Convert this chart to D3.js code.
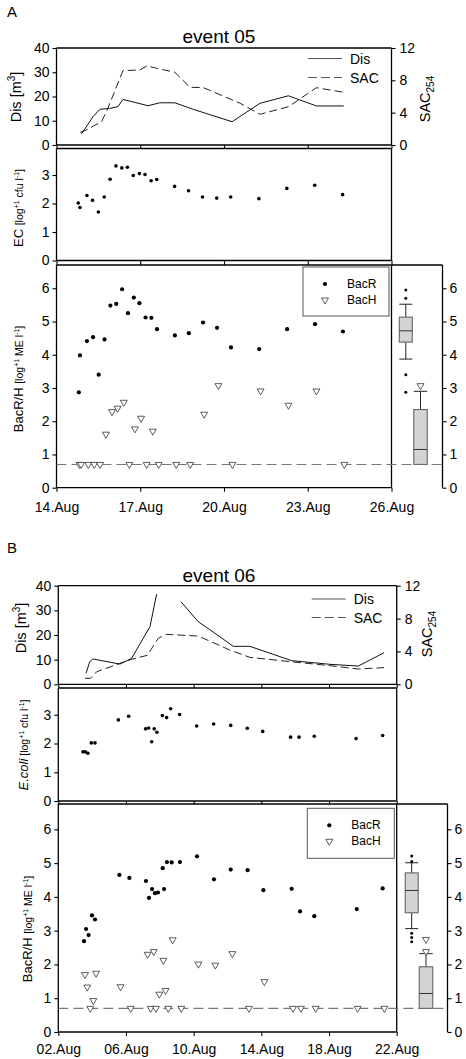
<!DOCTYPE html>
<html><head><meta charset="utf-8">
<script src="https://cdn.jsdelivr.net/npm/d3@7"></script>
<style>body{margin:0;background:#fff} svg{font-family:"Liberation Sans",Arial,Helvetica,sans-serif}</style>
</head><body><svg id="c" width="466" height="1059"></svg>
<script>
// ---------------- DATA : event 05 (panel A) ----------------
const aTickDays = [0, 3, 6, 9, 12];
const aTickLabels = ["14.Aug", "17.Aug", "20.Aug", "23.Aug", "26.Aug"];
const aDisDay = [0.89,1.31,1.55,1.90,2.20,2.38,3.28,3.70,4.24,4.90,6.29,7.29,8.31,9.31,10.29];
const aDisVal = [4.5,11.7,14.7,15.1,15.8,18.8,16.2,17.4,17.4,14.7,9.6,17.2,20.3,16.1,16.1];
const aSacDay = [0.85,1.07,1.61,1.79,2.08,2.38,2.98,3.25,3.58,4.24,4.78,5.26,6.58,7.29,8.31,9.31,10.29];
const aSacVal = [1.57,1.86,2.89,4.12,6.6,9.2,9.28,9.8,9.49,9.0,7.14,7.1,5.16,3.80,4.74,7.09,6.52];
const aEcDay = [0.78,0.84,1.09,1.29,1.50,1.71,1.92,2.13,2.34,2.54,2.75,2.97,3.17,3.39,3.59,4.23,4.73,5.23,5.74,6.24,7.25,8.25,9.25,10.25];
const aEcVal = [2.02,1.86,2.28,2.11,1.70,2.23,2.85,3.32,3.25,3.27,2.98,3.05,3.02,2.80,2.84,2.60,2.45,2.23,2.19,2.23,2.17,2.53,2.64,2.31];
const aBacRDay = [0.80,0.84,1.09,1.31,1.51,1.72,1.93,2.14,2.35,2.56,2.77,2.97,3.19,3.40,3.60,4.24,4.74,5.25,5.75,6.25,7.26,8.26,9.26,10.26];
const aBacRVal = [2.87,3.98,4.41,4.53,3.40,4.46,5.48,5.53,5.97,5.25,5.72,5.55,5.12,5.11,4.77,4.58,4.65,4.97,4.81,4.22,4.17,4.77,4.92,4.70];
const aBacHDay = [0.82,0.88,1.14,1.35,1.56,1.77,1.99,2.19,2.41,2.61,2.81,3.03,3.23,3.45,3.66,4.29,4.79,5.29,5.80,6.30,7.31,8.31,9.31,10.31];
const aBacHVal = [0.7,0.7,0.7,0.7,0.7,1.61,2.29,2.39,2.57,0.7,1.77,2.09,0.7,1.70,0.7,0.7,0.7,2.21,3.07,0.7,2.91,2.48,2.91,0.7];
// box stats: [lower whisker, Q1, median, Q3, upper whisker]
const aBoxR = [3.87, 4.38, 4.72, 5.13, 5.52];
const aBoxROut = [5.95, 5.70, 3.40, 2.87];
const aBoxH = [0.7, 0.7, 1.15, 2.35, 2.90];
const aBoxHOut = [3.07];

// ---------------- DATA : event 06 (panel B) ----------------
const bTickDays = [0, 4, 8, 12, 16, 20];
const bTickLabels = ["02.Aug", "06.Aug", "10.Aug", "14.Aug", "18.Aug", "22.Aug"];
const bDisDay = [1.64,1.85,2.03,3.64,4.33,5.42,5.81,6.5,7.25,8.27,9.26,10.34,11.32,13.79,16.06,17.73,19.25];
const bDisVal = [4.5,9.0,10.3,8.2,10.5,23.4,36.6,null,33.5,25.4,20.7,15.4,15.4,9.6,8.1,7.4,12.8];
const bSacDay = [1.58,1.91,2.27,3.64,4.33,5.26,5.91,6.40,8.17,8.57,10.14,11.32,13.69,16.06,17.73,19.25];
const bSacVal = [0.73,0.73,1.53,2.55,3.04,3.53,5.6,6.08,5.88,5.6,4.17,3.28,2.76,2.27,1.86,2.03];
const bEcDay = [1.46,1.60,1.75,1.95,2.17,3.55,4.16,5.16,5.34,5.52,5.67,5.83,6.15,6.40,6.64,7.17,8.18,9.18,10.19,11.17,12.08,13.73,14.23,15.13,17.60,19.17];
const bEcVal = [1.71,1.71,1.66,2.02,2.02,2.82,2.95,2.51,2.54,2.06,2.51,2.39,2.97,2.90,3.21,3.01,2.61,2.68,2.63,2.53,2.42,2.22,2.22,2.25,2.17,2.28];
const bBacRDay = [1.52,1.64,1.79,1.99,2.17,3.61,4.20,5.18,5.36,5.54,5.71,5.89,6.17,6.25,6.42,6.70,7.19,8.20,9.20,10.19,11.19,12.12,13.79,14.29,15.13,17.64,19.17];
const bBacRVal = [2.69,3.05,2.87,3.45,3.33,4.65,4.56,4.47,3.97,4.23,4.11,4.13,4.85,4.23,5.03,5.02,5.03,5.20,4.52,4.81,4.79,4.20,4.24,3.57,3.43,3.64,4.25];
const bBacHDay = [1.58,1.71,1.89,2.07,2.23,3.68,4.28,5.28,5.46,5.64,5.77,5.97,6.21,6.34,6.50,6.76,7.27,8.28,9.28,10.29,11.27,12.18,13.87,14.34,15.21,17.69,19.27];
const bBacHVal = [1.70,1.33,0.7,0.93,1.74,1.34,0.7,2.30,0.7,2.38,0.7,1.12,2.12,1.23,0.7,2.73,0.7,2.01,1.98,2.32,0.7,1.49,0.7,0.7,0.7,0.7,0.7];
const bBoxR = [3.06, 3.53, 4.19, 4.71, 5.01];
const bBoxROut = [5.21, 5.05, 2.92, 2.80, 2.67];
const bBoxH = [0.7, 0.7, 1.14, 1.93, 2.32];
const bBoxHOut = [2.74, 2.38];

const disTicks = [0, 10, 20, 30, 40];
const sacTicks = [0, 4, 8, 12];
const ecTicks = [0, 1, 2, 3];
const bacTicks = [0, 1, 2, 3, 4, 5, 6];
const LOD = 0.7;

// ---------------- DRAWING ----------------
const svg = d3.select("#c");
const zip = (a, b) => a.map((v, i) => [v, b[i]]);
const AX = 1.3;
const fmt = d3.format("d");

function styleAxis(g, fs) {
  g.selectAll("path.domain").remove();
  g.selectAll(".tick line").attr("stroke", "#000").attr("stroke-width", 1.1);
  g.selectAll(".tick text").attr("fill", "#000").style("font-size", fs + "px")
    .style("font-family", '"Liberation Sans", Arial, sans-serif');
}
function hline(x0, x1, y) {
  svg.append("line").attr("x1", x0).attr("x2", x1).attr("y1", y).attr("y2", y)
    .attr("stroke", "#000").attr("stroke-width", AX);
}
function vline(x, y0, y1) {
  svg.append("line").attr("x1", x).attr("x2", x).attr("y1", y0).attr("y2", y1)
    .attr("stroke", "#000").attr("stroke-width", AX);
}
function ylabel(x, y, parts) {
  const t = svg.append("text").attr("transform", `translate(${x},${y}) rotate(-90)`)
    .attr("text-anchor", "middle").attr("fill", "#000");
  parts.forEach(p => {
    const ts = t.append("tspan").text(p.t).style("font-size", p.fs + "px");
    if (p.dy) ts.attr("dy", p.dy);
    if (p.it) ts.style("font-style", "italic");
  });
}
const triDown = d3.symbol().type(d3.symbolTriangle).size(21);

function drawEvent(c) {
  const x = d3.scaleLinear().domain(c.xDom).range([c.xl, c.xr]);
  // ---- top panel: Dis + SAC
  const yDis = d3.scaleLinear().domain([0, 40]).range([c.t0, c.t1]);
  const ySac = d3.scaleLinear().domain([0, 12]).range([c.t0, c.t1]);
  vline(c.xl, c.t1, c.t0); vline(c.xr, c.t1, c.t0); hline(c.xl, c.xr, c.t1); hline(c.xl, c.xr, c.t0);
  styleAxis(svg.append("g").attr("transform", `translate(${c.xl},0)`)
    .call(d3.axisLeft(yDis).tickValues(disTicks).tickFormat(fmt).tickSize(4).tickPadding(3)), 14);
  styleAxis(svg.append("g").attr("transform", `translate(${c.xr},0)`)
    .call(d3.axisRight(ySac).tickValues(sacTicks).tickFormat(fmt).tickSize(4).tickPadding(4)), 14);
  styleAxis(svg.append("g").attr("transform", `translate(0,${c.t0})`)
    .call(d3.axisBottom(x).tickValues(c.ticks).tickFormat("").tickSize(c.m1 - c.t0)), 14);
  svg.append("path").datum(zip(c.sacDay, c.sacVal)).attr("fill", "none")
    .attr("stroke", "#222").attr("stroke-width", 1).attr("stroke-dasharray", "8,4")
    .attr("d", d3.line().defined(d => d[1] != null).x(d => x(d[0])).y(d => ySac(d[1])));
  svg.append("path").datum(zip(c.disDay, c.disVal)).attr("fill", "none")
    .attr("stroke", "#111").attr("stroke-width", 1)
    .attr("d", d3.line().defined(d => d[1] != null).x(d => x(d[0])).y(d => yDis(d[1])));
  // legend
  const lg = c.leg1;
  svg.append("line").attr("x1", lg.x).attr("x2", lg.x + 34).attr("y1", lg.y).attr("y2", lg.y)
    .attr("stroke", "#555").attr("stroke-width", 1.2);
  svg.append("line").attr("x1", lg.x).attr("x2", lg.x + 34).attr("y1", lg.y + lg.dy).attr("y2", lg.y + lg.dy)
    .attr("stroke", "#555").attr("stroke-width", 1.2).attr("stroke-dasharray", "9,4");
  svg.append("text").attr("x", lg.x + 42).attr("y", lg.y + 5).text("Dis").style("font-size", "14px");
  svg.append("text").attr("x", lg.x + 42).attr("y", lg.y + lg.dy + 5).text("SAC").style("font-size", "14px");
  // title
  svg.append("text").attr("x", c.titleX).attr("y", c.titleY).attr("text-anchor", "middle")
    .style("font-size", "19px").text(c.title);
  svg.append("text").attr("x", 7).attr("y", c.letterY).style("font-size", "15px").text(c.letter);

  // ---- middle panel: E. coli
  const yEc = d3.scaleLinear().domain([0, c.ecMax]).range([c.m0, c.m1]);
  vline(c.xl, c.m1, c.m0); vline(c.xr, c.m1, c.m0); hline(c.xl, c.xr, c.m1); hline(c.xl, c.xr, c.m0);
  styleAxis(svg.append("g").attr("transform", `translate(${c.xl},0)`)
    .call(d3.axisLeft(yEc).tickValues(ecTicks).tickFormat(fmt).tickSize(4).tickPadding(3)), 14);
  styleAxis(svg.append("g").attr("transform", `translate(0,${c.m0})`)
    .call(d3.axisBottom(x).tickValues(c.ticks).tickFormat("").tickSize(c.b1 - c.m0)), 14);
  svg.append("g").selectAll("circle").data(zip(c.ecDay, c.ecVal)).join("circle")
    .attr("cx", d => x(d[0])).attr("cy", d => yEc(d[1])).attr("r", 1.8).attr("fill", "#000");

  // ---- bottom panel: BacR / BacH
  const yB = d3.scaleLinear().domain([0, c.bMax]).range([c.b0, c.b1]);
  vline(c.xl, c.b1, c.b0); vline(c.xr, c.b1, c.b0); hline(c.xl, c.bx1, c.b1); hline(c.xl, c.xr, c.b0);
  vline(c.bx1, c.b1, c.b0);
  styleAxis(svg.append("g").attr("transform", `translate(${c.xl},0)`)
    .call(d3.axisLeft(yB).tickValues(bacTicks).tickFormat(fmt).tickSize(4).tickPadding(3)), 14);
  styleAxis(svg.append("g").attr("transform", `translate(${c.bx1},0)`)
    .call(d3.axisRight(yB).tickValues(bacTicks).tickFormat(fmt).tickSize(4).tickPadding(3)), 14);
  const xa = svg.append("g").attr("transform", `translate(0,${c.b0})`)
    .call(d3.axisBottom(x).tickValues(c.ticks).tickFormat((d, i) => c.labels[i]).tickSize(4).tickPadding(c.xPad));
  styleAxis(xa, 14);
  // LOD line
  svg.append("line").attr("x1", c.xl).attr("x2", c.bx1).attr("y1", yB(LOD)).attr("y2", yB(LOD))
    .attr("stroke", "#777").attr("stroke-width", 1.1).attr("stroke-dasharray", "10,5");
  // points
  svg.append("g").selectAll("path").data(zip(c.hDay, c.hVal)).join("path")
    .attr("transform", d => `translate(${x(d[0])},${yB(d[1])}) rotate(180)`)
    .attr("d", triDown).attr("fill", "#fff").attr("stroke", "#333").attr("stroke-width", 0.8);
  svg.append("g").selectAll("circle").data(zip(c.rDay, c.rVal)).join("circle")
    .attr("cx", d => x(d[0])).attr("cy", d => yB(d[1])).attr("r", 2.1).attr("fill", "#000");
  // legend box
  const L = c.leg2;
  svg.append("rect").attr("x", L.x).attr("y", L.y).attr("width", L.w).attr("height", L.h)
    .attr("fill", "#fff").attr("stroke", "#555").attr("stroke-width", 1);
  svg.append("circle").attr("cx", L.x + 22).attr("cy", L.y + 17).attr("r", 2.1).attr("fill", "#000");
  svg.append("path").attr("transform", `translate(${L.x + 22},${L.y + 33}) rotate(180)`)
    .attr("d", triDown).attr("fill", "#fff").attr("stroke", "#333").attr("stroke-width", 0.8);
  svg.append("text").attr("x", L.x + 44).attr("y", L.y + 21).text("BacR").style("font-size", "12px");
  svg.append("text").attr("x", L.x + 44).attr("y", L.y + 37).text("BacH").style("font-size", "12px");
  // box plots
  function box(cx, w, s, outs, tri) {
    const g = svg.append("g");
    g.append("line").attr("x1", cx).attr("x2", cx).attr("y1", yB(s[3])).attr("y2", yB(s[4])).attr("stroke", "#222");
    g.append("line").attr("x1", cx).attr("x2", cx).attr("y1", yB(s[1])).attr("y2", yB(s[0])).attr("stroke", "#222");
    g.append("line").attr("x1", cx - w / 2).attr("x2", cx + w / 2).attr("y1", yB(s[4])).attr("y2", yB(s[4])).attr("stroke", "#222");
    if (s[0] < s[1]) g.append("line").attr("x1", cx - w / 2).attr("x2", cx + w / 2).attr("y1", yB(s[0])).attr("y2", yB(s[0])).attr("stroke", "#222");
    g.append("rect").attr("x", cx - w / 2).attr("width", w).attr("y", yB(s[3])).attr("height", yB(s[1]) - yB(s[3]))
      .attr("fill", "#d3d3d3").attr("stroke", "#666").attr("stroke-width", 1.1);
    g.append("line").attr("x1", cx - w / 2).attr("x2", cx + w / 2).attr("y1", yB(s[2])).attr("y2", yB(s[2])).attr("stroke", "#333");
    outs.forEach(o => {
      if (tri) g.append("path").attr("transform", `translate(${cx},${yB(o)}) rotate(180)`).attr("d", triDown)
        .attr("fill", "#fff").attr("stroke", "#333").attr("stroke-width", 0.8);
      else g.append("circle").attr("cx", cx).attr("cy", yB(o)).attr("r", 1.5).attr("fill", "#000");
    });
  }
  box(c.boxRx, 13, c.boxR, c.boxROut, false);
  box(c.boxHx, 13.5, c.boxH, c.boxHOut, true);

  // y-axis titles
  ylabel(c.lab.dis[0], c.lab.dis[1], [{t: "Dis [m", fs: 14.5}, {t: "3", fs: 10, dy: -6}, {t: "]", fs: 14.5, dy: 6}]);
  ylabel(c.lab.sac[0], c.lab.sac[1], [{t: "SAC", fs: 14.5}, {t: "254", fs: 10, dy: 4}]);
  ylabel(c.lab.ec[0], c.lab.ec[1], c.ecLabel);
  ylabel(c.lab.bac[0], c.lab.bac[1], [{t: "BacR/H ", fs: 13}, {t: "[log", fs: 10.5}, {t: "+1", fs: 7, dy: -4},
    {t: " ME l", fs: 10.5, dy: 4}, {t: "-1", fs: 7, dy: -4}, {t: "]", fs: 10.5, dy: 4}]);
}

drawEvent({
  xDom: [0, 12], xl: 56.5, xr: 391.5, bx1: 442.5, ticks: aTickDays, labels: aTickLabels, xPad: 10,
  t0: 145, t1: 48, m0: 260.5, m1: 148.5, ecMax: 3.93, b0: 487.7, b1: 265, bMax: 6.7,
  disDay: aDisDay, disVal: aDisVal, sacDay: aSacDay, sacVal: aSacVal,
  ecDay: aEcDay, ecVal: aEcVal, rDay: aBacRDay, rVal: aBacRVal, hDay: aBacHDay, hVal: aBacHVal,
  boxR: aBoxR, boxROut: aBoxROut, boxH: aBoxH, boxHOut: aBoxHOut, boxRx: 405.8, boxHx: 420.5,
  leg1: {x: 308, y: 58.5, dy: 19}, leg2: {x: 303, y: 267, w: 86, h: 49},
  title: "event 05", titleX: 219, titleY: 43, letter: "A", letterY: 17,
  ecLabel: [{t: "EC ", fs: 13}, {t: "[log", fs: 10.5}, {t: "+1", fs: 7, dy: -4}, {t: " cfu l", fs: 10.5, dy: 4},
    {t: "-1", fs: 7, dy: -4}, {t: "]", fs: 10.5, dy: 4}],
  lab: {dis: [20.5, 97], sac: [430, 99], ec: [23, 208], bac: [23.3, 379]}
});

drawEvent({
  xDom: [0, 20], xl: 58.3, xr: 396.7, bx1: 447.5, ticks: bTickDays, labels: bTickLabels, xPad: 8,
  t0: 684.3, t1: 585.7, m0: 801, m1: 688, ecMax: 3.93, b0: 1032, b1: 804, bMax: 6.75,
  disDay: bDisDay, disVal: bDisVal, sacDay: bSacDay, sacVal: bSacVal,
  ecDay: bEcDay, ecVal: bEcVal, rDay: bBacRDay, rVal: bBacRVal, hDay: bBacHDay, hVal: bBacHVal,
  boxR: bBoxR, boxROut: bBoxROut, boxH: bBoxH, boxHOut: bBoxHOut, boxRx: 411.7, boxHx: 426,
  leg1: {x: 311.7, y: 599, dy: 18.5}, leg2: {x: 307.3, y: 808.3, w: 87, h: 50},
  title: "event 06", titleX: 219, titleY: 582, letter: "B", letterY: 553,
  ecLabel: [{t: "E.coli", fs: 13, it: true}, {t: " [log", fs: 10.5}, {t: "+1", fs: 7, dy: -4}, {t: " cfu l", fs: 10.5, dy: 4},
    {t: "-1", fs: 7, dy: -4}, {t: "]", fs: 10.5, dy: 4}],
  lab: {dis: [26, 628], sac: [432, 634], ec: [28, 745], bac: [31.5, 929]}
});
</script></body></html>
